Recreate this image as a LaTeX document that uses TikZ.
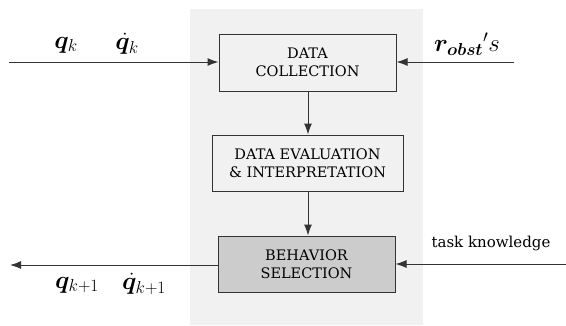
\documentclass[tikz,border=0pt]{standalone}
\usepackage{amsmath,bm}
\usepackage{fontspec}
\setmainfont{DejaVu Serif}
\usetikzlibrary{arrows.meta}
\definecolor{panel}{HTML}{F1F1F1}
\definecolor{selfill}{HTML}{CCCCCC}
\tikzset{
  block/.style={draw=black!80, line width=1pt, fill=panel, align=center,
    font=\fontsize{14.5}{18}\selectfont, inner sep=0pt},
  flow/.style={draw=black!80, line width=1pt, -{Latex[length=11pt,width=8pt]}},
  lbl/.style={inner sep=0pt, font=\fontsize{23}{25}\selectfont},
}
\begin{document}
\begin{tikzpicture}[x=1pt,y=-1pt]
  \useasboundingbox (0,0) rectangle (566,325);
  % shaded processing area
  \fill[panel] (190,9) rectangle (423,325);

  \node[block, minimum width=177pt, minimum height=57pt] (col) at (307.5,62.5) {DATA\\COLLECTION};
  \node[block, minimum width=191pt, minimum height=56pt] (eval) at (307.5,163) {DATA EVALUATION\\\& INTERPRETATION};
  \node[block, fill=selfill, minimum width=177pt, minimum height=56pt] (sel) at (306.5,264) {BEHAVIOR\\SELECTION};

  \coordinate (inL) at (9,62);
  \coordinate (inR) at (514,62);
  \coordinate (outL) at (10,265);
  \coordinate (inT) at (566,264);
  \coordinate (vx) at (308,0);

  \draw[flow] (inL) -- (col.west |- inL);
  \draw[flow] (inR) -- (col.east |- inR);
  \draw[flow] (col.south -| vx) -- (eval.north -| vx);
  \draw[flow] (eval.south -| vx) -- (sel.north -| vx);
  \draw[flow] (sel.west |- outL) -- (outL);
  \draw[flow] (inT) -- (sel.east |- inT);

  \node[lbl] (qk) at (66,45) {$\bm{q}_k$};
  \node[lbl] (dqk) at (127,44) {$\dot{\bm{q}}_k$};
  \node[lbl] (robs) at (467,44) {$\bm{r_{obst}}{}'s$};
  \node[lbl] (qk1) at (77,285) {$\bm{q}_{k+1}$};
  \node[lbl] (dqk1) at (144,284) {$\dot{\bm{q}}_{k+1}$};
  \node[inner sep=0pt, font=\fontsize{15}{17}\selectfont] (task) at (491,243) {task knowledge};
\end{tikzpicture}
\end{document}
